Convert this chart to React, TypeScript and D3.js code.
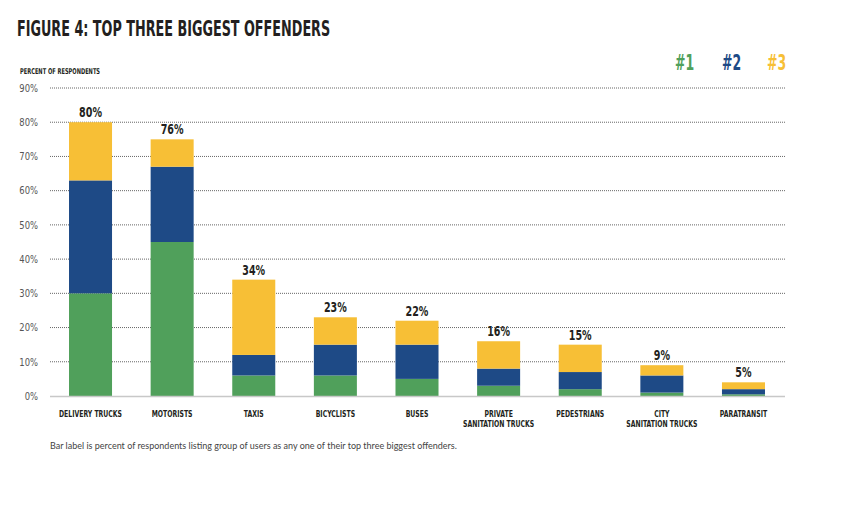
import React from "react";
import * as d3 from "d3";

const categories = [
  "DELIVERY TRUCKS",
  "MOTORISTS",
  "TAXIS",
  "BICYCLISTS",
  "BUSES",
  "PRIVATE|SANITATION TRUCKS",
  "PEDESTRIANS",
  "CITY|SANITATION TRUCKS",
  "PARATRANSIT",
];
const rank1 = [30, 45, 6, 6, 5, 3, 2, 1, 0.5];
const rank2 = [33, 22, 6, 9, 10, 5, 5, 5, 1.5];
const rank3 = [17, 8, 22, 8, 7, 8, 8, 3, 2];
const barLabels = ["80%", "76%", "34%", "23%", "22%", "16%", "15%", "9%", "5%"];
const yTicks = [0, 10, 20, 30, 40, 50, 60, 70, 80, 90];
const seriesNames = ["#1", "#2", "#3"];
const colors = ["#50a05b", "#1e4a86", "#f7bf36"];

const W = 846;
const H = 512;
const COND = "'Liberation Sans Narrow', 'DejaVu Sans Condensed', 'Roboto Condensed', sans-serif";
const SANS = "'Lato', 'Open Sans', sans-serif";

function CText(props: {
  x: number;
  y: number;
  sx: number;
  size: number;
  fill?: string;
  anchor?: string;
  weight?: number;
  children: React.ReactNode;
}) {
  return (
    <text
      transform={`translate(${props.x},${props.y}) scale(${props.sx},1)`}
      textAnchor={props.anchor || "start"}
      fontFamily={COND}
      fontWeight={props.weight || 700}
      fontSize={props.size}
      fill={props.fill || "#231f20"}
    >
      {props.children}
    </text>
  );
}

export default function App() {
  const x = d3
    .scaleBand<string>()
    .domain(categories)
    .range([50, 784])
    .paddingInner(0.473)
    .paddingOuter(0.233);
  const y = d3.scaleLinear().domain([0, 90]).range([396, 88]);

  const rows = categories.map((c, i) => ({ c, r1: rank1[i], r2: rank2[i], r3: rank3[i] }));
  const stack = d3.stack<any>().keys(["r1", "r2", "r3"])(rows);

  return (
    <svg
      width={W}
      height={H}
      style={{ position: "absolute", left: 0, top: 0, background: "#fff" }}
    >
      <CText x={17} y={36} sx={0.677} size={21}>
        FIGURE 4: TOP THREE BIGGEST OFFENDERS
      </CText>
      <CText x={20} y={74} sx={0.71} size={8}>
        PERCENT OF RESPONDENTS
      </CText>
      {seriesNames.map((s, i) => (
        <CText key={s} x={[675, 722, 767][i]} y={70} sx={0.66} size={21} fill={colors[i]}>
          {s}
        </CText>
      ))}
      {yTicks.map((t) => (
        <g key={t}>
          {t > 0 && (
            <line
              x1={50}
              x2={785}
              y1={y(t)}
              y2={y(t)}
              stroke="#666"
              strokeWidth={1}
              strokeDasharray="1,1"
            />
          )}
          <CText x={38} y={y(t) + 3.8} sx={0.85} size={11} anchor="end" weight={400} fill="#555">
            {t}%
          </CText>
        </g>
      ))}
      {stack.map((layer, li) =>
        layer.map((d, i) => (
          <rect
            key={li + "-" + i}
            x={x(categories[i])}
            width={x.bandwidth()}
            y={y(d[1])}
            height={y(d[0]) - y(d[1])}
            fill={colors[li]}
          />
        ))
      )}
      <line x1={50} x2={785} y1={396.5} y2={396.5} stroke="#c8c8c8" strokeWidth={1.5} />
      {categories.map((c, i) => {
        const top = stack[2][i][1];
        const cx = (x(c) as number) + x.bandwidth() / 2;
        return (
          <CText key={"l" + c} x={cx} y={y(top) - 5} sx={0.76} size={14} anchor="middle">
            {barLabels[i]}
          </CText>
        );
      })}
      {categories.map((c, i) => {
        const cx = (x(c) as number) + x.bandwidth() / 2;
        const lines = c.split("|");
        return (
          <g key={"c" + c}>
            {lines.map((ln, k) => (
              <CText key={k} x={cx} y={416.5 + k * 10.5} sx={0.72} size={9.5} anchor="middle">
                {ln}
              </CText>
            ))}
          </g>
        );
      })}
      <text x={50} y={449} fontFamily={SANS} fontSize={9} fill="#444">
        Bar label is percent of respondents listing group of users as any one of their top three biggest offenders.
      </text>
    </svg>
  );
}
